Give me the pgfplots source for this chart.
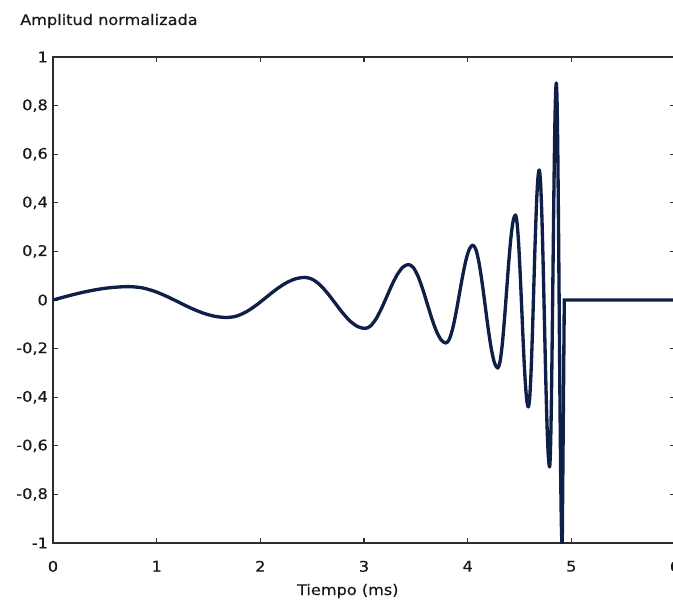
\documentclass[border=0pt]{standalone}
\usepackage{fontspec}
\setmainfont{DejaVu Sans}[FakeStretch=1.1, FakeBold=0.4]
\usepackage{pgfplots}
\pgfplotsset{compat=1.18}
\definecolor{curve}{RGB}{14,32,72}
\definecolor{axisc}{RGB}{45,45,45}
\definecolor{txt}{RGB}{25,25,25}
\begin{document}
\fontsize{11}{13}\selectfont
\begin{tikzpicture}
\useasboundingbox (-39.75pt,-44.25pt) rectangle (465pt,407.25pt);
\begin{axis}[
  at={(0,0)}, anchor=south west,
  scale only axis, width=466.5pt, height=364.5pt,
  xmin=0, xmax=6, ymin=-1, ymax=1,
  xtick={0,1,2,3,4,5,6},
  ytick={-1,-0.8,-0.6,-0.4,-0.2,0,0.2,0.4,0.6,0.8,1},
  /pgf/number format/use comma,
  /pgf/number format/assume math mode=true,
  tick align=inside, major tick length=4pt,
  tick style={axisc, line width=1pt},
  axis line style={axisc, line width=1.5pt},
  ticklabel style={text=txt},
  xticklabel style={yshift=-9.5pt},
  xlabel={Tiempo (ms)},
  xlabel style={at={(rel axis cs:0.474,0)}, anchor=base, yshift=-39pt, text=txt},
]
\addplot[curve, line width=2.5pt, smooth, line join=round] coordinates {
(0,0) (0.0925,0.0107) (0.185,0.0210) (0.2775,0.0306) (0.37,0.0389) (0.4625,0.0457) (0.555,0.0508) (0.6475,0.0539) (0.74,0.055)
(0.8575,0.0502) (0.975,0.0364) (1.0925,0.0158) (1.21,-0.0085) (1.3275,-0.0328) (1.445,-0.0534) (1.5625,-0.0672) (1.68,-0.072)
(1.77375,-0.0657) (1.8675,-0.0478) (1.96125,-0.0211) (2.055,0.0105) (2.14875,0.0421) (2.2425,0.0688) (2.33625,0.0867) (2.43,0.093)
(2.5025,0.0850) (2.575,0.0623) (2.6475,0.0282) (2.72,-0.012) (2.7925,-0.0522) (2.865,-0.0863) (2.9375,-0.109) (3.01,-0.117)
(3.0625,-0.1070) (3.115,-0.0785) (3.1675,-0.0358) (3.22,0.0145) (3.2725,0.0648) (3.325,0.1075) (3.3775,0.1360) (3.43,0.146)
(3.475,0.1337) (3.52,0.0987) (3.565,0.0463) (3.61,-0.0155) (3.655,-0.0773) (3.70,-0.1297) (3.745,-0.1647) (3.79,-0.177)
(3.8225,-0.1617) (3.855,-0.118) (3.8875,-0.0526) (3.92,0.0245) (3.9525,0.1016) (3.985,0.167) (4.0175,0.2106) (4.05,0.226)
(4.08,0.2067) (4.11,0.1519) (4.14,0.0698) (4.17,-0.027) (4.20,-0.1238) (4.23,-0.2059) (4.26,-0.2607) (4.29,-0.28)
(4.31125,-0.256) (4.3325,-0.1878) (4.35375,-0.0855) (4.375,0.035) (4.39625,0.1555) (4.4175,0.2578) (4.43875,0.326) (4.46,0.35)
(4.475625,0.3199) (4.49125,0.2343) (4.506875,0.1061) (4.5225,-0.045) (4.538125,-0.1961) (4.55375,-0.3243) (4.569375,-0.4099) (4.585,-0.44)
(4.598125,-0.4029) (4.61125,-0.2973) (4.624375,-0.139) (4.6375,0.0475) (4.650625,0.234) (4.66375,0.3923) (4.676875,0.4979) (4.69,0.535)
(4.7025,0.4884) (4.715,0.3561) (4.7275,0.1578) (4.74,-0.076) (4.7525,-0.3098) (4.765,-0.5081) (4.7775,-0.6404) (4.79,-0.687)
(4.798125,-0.6268) (4.80625,-0.4557) (4.814375,-0.1993) (4.8225,0.103) (4.830625,0.4053) (4.83875,0.6617) (4.846875,0.8328) (4.855,0.893)
(4.862125,0.8201) (4.86925,0.6129) (4.876375,0.3025) (4.8835,-0.0635) (4.890625,-0.4295) (4.89775,-0.7399) (4.904875,-0.9471) (4.912,-1.02)
};
\addplot[curve, line width=2.5pt] coordinates {
(4.912,-1.02) (4.932,0) (6,0)
};
\end{axis}
\node[anchor=base west, inner sep=0pt, text=txt] at (-24.75pt,388.5pt) {Amplitud normalizada};
\end{tikzpicture}
\end{document}
